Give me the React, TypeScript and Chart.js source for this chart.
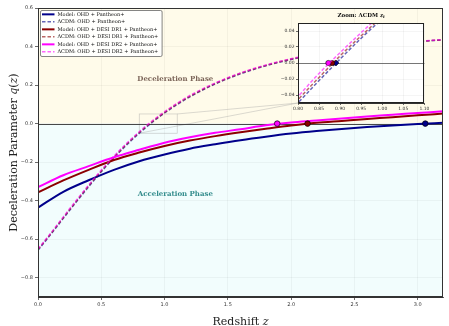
import React, { useEffect, useRef } from 'react';
import { Chart, registerables } from 'chart.js';

Chart.register(...registerables);

// ---------------- data ----------------
const Z_MODEL = [0, 0.2, 0.4, 0.6, 0.8, 1.0, 1.2, 1.4, 1.6, 1.8, 2.0, 2.2, 2.4, 2.6, 2.8, 3.0, 3.2];
const Q_MODEL_OHD = [-0.436, -0.354, -0.294, -0.240, -0.195, -0.160, -0.130, -0.107, -0.086, -0.068, -0.052, -0.039, -0.028, -0.018, -0.010, -0.002, 0.004];
const Q_MODEL_DR1 = [-0.357, -0.295, -0.240, -0.189, -0.150, -0.116, -0.088, -0.065, -0.045, -0.027, -0.010, 0.004, 0.014, 0.024, 0.033, 0.043, 0.052];
const Q_MODEL_DR2 = [-0.330, -0.268, -0.221, -0.175, -0.136, -0.099, -0.071, -0.048, -0.029, -0.009, 0.006, 0.016, 0.027, 0.037, 0.046, 0.055, 0.064];

const Z_LCDM = [0, 0.1, 0.2, 0.3, 0.4, 0.5, 0.6, 0.7, 0.8, 0.85, 0.9, 0.95, 1.0, 1.1, 1.2, 1.4, 1.6, 1.8, 2.0, 2.2, 2.4, 2.6, 2.8, 3.0, 3.2];
const Q_LCDM_OHD = [-0.657, -0.576, -0.492, -0.409, -0.328, -0.250, -0.178, -0.111, -0.050, -0.022, 0.005, 0.031, 0.055, 0.099, 0.139, 0.206, 0.258, 0.300, 0.333, 0.360, 0.381, 0.399, 0.413, 0.425, 0.435];
const Q_LCDM_DR1 = [-0.654, -0.572, -0.488, -0.405, -0.323, -0.246, -0.174, -0.107, -0.046, -0.018, 0.009, 0.034, 0.058, 0.103, 0.142, 0.208, 0.261, 0.302, 0.335, 0.361, 0.383, 0.400, 0.414, 0.426, 0.435];
const Q_LCDM_DR2 = [-0.651, -0.569, -0.484, -0.400, -0.319, -0.241, -0.169, -0.102, -0.042, -0.013, 0.013, 0.038, 0.062, 0.106, 0.146, 0.211, 0.263, 0.304, 0.337, 0.363, 0.384, 0.401, 0.415, 0.427, 0.436];

// transition redshifts (q = 0): OHD, DR1, DR2
const ZT_MODEL = [3.06, 2.13, 1.89];
const ZT_LCDM = [0.890, 0.881, 0.872];

const SERIES_LABELS = [
  'Model: OHD + Pantheon+',
  'ΛCDM: OHD + Pantheon+',
  'Model: OHD + DESI DR1 + Pantheon+',
  'ΛCDM: OHD + DESI DR1 + Pantheon+',
  'Model: OHD + DESI DR2 + Pantheon+',
  'ΛCDM: OHD + DESI DR2 + Pantheon+',
];

const X_TICKS = [0, 0.5, 1.0, 1.5, 2.0, 2.5, 3.0];
const Y_TICKS = [-0.8, -0.6, -0.4, -0.2, 0, 0.2, 0.4, 0.6];
const INSET_X_TICKS = [0.8, 0.85, 0.9, 0.95, 1.0, 1.05, 1.1];
const INSET_Y_TICKS = [-0.04, -0.02, 0, 0.02, 0.04];

// ---------------- styles ----------------
const COLORS = ['#00008b', '#8b0000', '#ff00ff'];
const DASH_COLORS = ['rgba(0,0,139,0.6)', 'rgba(139,0,0,0.6)', 'rgba(255,0,255,0.6)'];
const DASH = [3.5, 2];
const BG_DECEL = 'rgb(255,251,234)';
const BG_ACCEL = 'rgb(242,253,253)';
const GRID = 'rgba(0,0,0,0.07)';
const INSET = { left: 268, top: 8, width: 161, height: 112, yAxisW: 30, xAxisH: 17, padTop: 15 };
const ZOOM_BOX = { x0: 0.8, x1: 1.1, y0: -0.05, y1: 0.05 };

const fmt = (v: number, d: number) => (v < -1e-9 ? '\u2212' : '') + Math.abs(v).toFixed(d);
const pts = (xs: number[], ys: number[]) => xs.map((x, i) => ({ x, y: ys[i] }));

type Run = { t: string; italic?: boolean };
function drawRuns(ctx: CanvasRenderingContext2D, runs: Run[], size: number, cx: number, cy: number, rot: number, weight = 'normal') {
  ctx.save();
  ctx.translate(cx, cy);
  ctx.rotate(rot);
  ctx.textBaseline = 'alphabetic';
  ctx.textAlign = 'left';
  const fontOf = (r: Run) => `${r.italic ? 'italic ' : ''}${weight} ${size}px "DejaVu Serif"`;
  const widths = runs.map((r) => {
    ctx.font = fontOf(r);
    return ctx.measureText(r.t).width;
  });
  const total = widths.reduce((a, b) => a + b, 0);
  let x = -total / 2;
  runs.forEach((r, i) => {
    ctx.font = fontOf(r);
    ctx.fillText(r.t, x, 0);
    x += widths[i];
  });
  ctx.restore();
}

const mainPlugin = {
  id: 'mainDecor',
  beforeDraw(chart: any) {
    const { ctx, chartArea: a, scales } = chart;
    const y0 = scales.y.getPixelForValue(0);
    ctx.save();
    ctx.fillStyle = '#ffffff';
    ctx.fillRect(0, 0, chart.width, chart.height);
    ctx.fillStyle = BG_DECEL;
    ctx.fillRect(a.left, a.top, a.right - a.left, y0 - a.top);
    ctx.fillStyle = BG_ACCEL;
    ctx.fillRect(a.left, y0, a.right - a.left, a.bottom - y0);
    ctx.restore();
  },
  beforeDatasetsDraw(chart: any) {
    const { ctx, chartArea: a, scales } = chart;
    const { x, y } = scales;
    ctx.save();
    // phase labels
    ctx.textAlign = 'center';
    ctx.textBaseline = 'middle';
    ctx.font = 'bold 7px "DejaVu Serif"';
    ctx.fillStyle = '#7d665a';
    ctx.fillText('Deceleration Phase', x.getPixelForValue(1.085), y.getPixelForValue(0.233));
    ctx.fillStyle = '#348d8d';
    ctx.fillText('Acceleration Phase', x.getPixelForValue(1.085), y.getPixelForValue(-0.367));
    // zoom rectangle and connectors
    const rx0 = x.getPixelForValue(ZOOM_BOX.x0), rx1 = x.getPixelForValue(ZOOM_BOX.x1);
    const ry0 = y.getPixelForValue(ZOOM_BOX.y0), ry1 = y.getPixelForValue(ZOOM_BOX.y1);
    ctx.strokeStyle = 'rgba(160,160,160,0.55)';
    ctx.lineWidth = 0.7;
    ctx.strokeRect(rx0, ry1, rx1 - rx0, ry0 - ry1);
    const ix = INSET.left + INSET.yAxisW, iy = INSET.top + INSET.height - INSET.xAxisH;
    ctx.beginPath();
    ctx.moveTo(rx0, ry0);
    ctx.lineTo(ix, iy);
    ctx.moveTo(rx1, ry1);
    ctx.lineTo(ix, iy);
    ctx.stroke();
    // zero line
    ctx.strokeStyle = '#333';
    ctx.lineWidth = 0.9;
    const y0 = Math.round(y.getPixelForValue(0)) + 0.5;
    ctx.beginPath();
    ctx.moveTo(a.left, y0);
    ctx.lineTo(a.right, y0);
    ctx.stroke();
    ctx.restore();
  },
  afterDraw(chart: any) {
    const { ctx, chartArea: a } = chart;
    ctx.save();
    // frame
    ctx.strokeStyle = '#333';
    ctx.lineWidth = 1;
    ctx.strokeRect(Math.round(a.left) + 0.5, Math.round(a.top) + 0.5, Math.round(a.right - a.left) - 1, Math.round(a.bottom - a.top) - 1);
    // legend
    const ds = chart.data.datasets.filter((d: any) => SERIES_LABELS.includes(d.label));
    ctx.font = '5px "DejaVu Serif"';
    const maxW = Math.max(...ds.map((d: any) => ctx.measureText(d.label).width));
    const bx = a.left + 2.5, by = a.top + 2.5, rowH = 7.5;
    const bw = 17 + maxW + 4, bh = ds.length * rowH + 1;
    ctx.beginPath();
    if ((ctx as any).roundRect) (ctx as any).roundRect(bx, by, bw, bh, 1.5);
    else ctx.rect(bx, by, bw, bh);
    ctx.fillStyle = 'rgba(255,255,255,0.9)';
    ctx.fill();
    ctx.strokeStyle = '#666';
    ctx.lineWidth = 0.8;
    ctx.stroke();
    ds.forEach((d: any, i: number) => {
      const cy = by + rowH * (i + 0.5) + 0.1;
      ctx.beginPath();
      ctx.setLineDash(d.borderDash || []);
      ctx.strokeStyle = d.borderColor;
      ctx.lineWidth = d.borderWidth;
      ctx.moveTo(bx + 1.5, cy);
      ctx.lineTo(bx + 14, cy);
      ctx.stroke();
      ctx.setLineDash([]);
      ctx.fillStyle = '#111';
      ctx.textAlign = 'left';
      ctx.textBaseline = 'middle';
      ctx.font = '5px "DejaVu Serif"';
      ctx.fillText(d.label, bx + 17, cy);
    });
    // axis titles
    ctx.fillStyle = '#222';
    drawRuns(ctx, [{ t: 'Redshift ' }, { t: 'z', italic: true }], 11, (a.left + a.right) / 2, 325, 0);
    drawRuns(ctx, [{ t: 'Deceleration Parameter ' }, { t: 'q', italic: true }, { t: '(' }, { t: 'z', italic: true }, { t: ')' }], 11, 17, (a.top + a.bottom) / 2, -Math.PI / 2);
    ctx.restore();
  },
};

const insetPlugin = {
  id: 'insetDecor',
  beforeDraw(chart: any) {
    const { ctx, chartArea: a } = chart;
    ctx.save();
    ctx.fillStyle = '#ffffff';
    ctx.fillRect(a.left, a.top, a.right - a.left, a.bottom - a.top);
    ctx.restore();
  },
  beforeDatasetsDraw(chart: any) {
    const { ctx, chartArea: a, scales } = chart;
    ctx.save();
    ctx.strokeStyle = '#555';
    ctx.lineWidth = 0.8;
    const y0 = Math.round(scales.y.getPixelForValue(0)) + 0.5;
    ctx.beginPath();
    ctx.moveTo(a.left, y0);
    ctx.lineTo(a.right, y0);
    ctx.stroke();
    ctx.restore();
  },
  afterDraw(chart: any) {
    const { ctx, chartArea: a } = chart;
    ctx.save();
    ctx.strokeStyle = '#222';
    ctx.lineWidth = 1;
    ctx.strokeRect(Math.round(a.left) + 0.5, Math.round(a.top) + 0.5, Math.round(a.right - a.left) - 1, Math.round(a.bottom - a.top) - 1);
    ctx.fillStyle = '#111';
    // title "Zoom: ΛCDM z_t"
    ctx.textBaseline = 'alphabetic';
    ctx.textAlign = 'left';
    const f1 = 'bold 5.5px "DejaVu Serif"';
    const f2 = 'italic bold 5.5px "DejaVu Serif"';
    const f3 = 'italic bold 4px "DejaVu Serif"';
    const parts: [string, string, number][] = [['Zoom: ΛCDM ', f1, 0], ['z', f2, 0], ['t', f3, 1.2]];
    const widths = parts.map(([t, f]) => { ctx.font = f; return ctx.measureText(t).width; });
    const total = widths.reduce((s, w) => s + w, 0);
    let x = (a.left + a.right) / 2 - total / 2;
    const base = a.top - 6;
    parts.forEach(([t, f, dy], i) => { ctx.font = f; ctx.fillText(t, x, base + dy); x += widths[i]; });
    ctx.restore();
  },
};

function axisCommon(ticksArr: number[], digits: number, fontSize: number, tickLen: number, pad: number) {
  return {
    type: 'linear' as const,
    afterBuildTicks: (s: any) => { s.ticks = ticksArr.map((v) => ({ value: v })); },
    grid: { color: GRID, lineWidth: 0.6, tickLength: tickLen, tickColor: '#444', tickWidth: 0.8, drawTicks: true },
    border: { display: true, color: '#333', width: 1 },
    ticks: {
      autoSkip: false,
      maxRotation: 0,
      padding: pad,
      color: '#333',
      font: { family: 'DejaVu Sans', size: fontSize },
      callback: (v: any) => fmt(Number(v), digits),
    },
  };
}

function buildMain(canvas: HTMLCanvasElement) {
  const model = [Q_MODEL_OHD, Q_MODEL_DR1, Q_MODEL_DR2];
  const lcdm = [Q_LCDM_OHD, Q_LCDM_DR1, Q_LCDM_DR2];
  const datasets: any[] = [];
  for (let i = 0; i < 3; i++) {
    datasets.push({
      label: SERIES_LABELS[2 * i],
      data: pts(Z_MODEL, model[i]),
      borderColor: COLORS[i],
      borderWidth: 2,
      pointRadius: 0,
      cubicInterpolationMode: 'monotone',
      fill: false,
      order: 6 - 2 * i,
    });
    datasets.push({
      label: SERIES_LABELS[2 * i + 1],
      data: pts(Z_LCDM, lcdm[i]),
      borderColor: DASH_COLORS[i],
      borderWidth: 1.5,
      borderDash: DASH,
      pointRadius: 0,
      cubicInterpolationMode: 'monotone',
      fill: false,
      order: 5 - 2 * i,
    });
  }
  for (let i = 0; i < 3; i++) {
    datasets.push({
      label: '',
      data: [{ x: ZT_MODEL[i], y: 0 }],
      showLine: false,
      pointRadius: 2.8,
      pointBackgroundColor: COLORS[i],
      pointBorderColor: '#000',
      pointBorderWidth: 0.7,
      order: 0,
    });
  }
  return new Chart(canvas, {
    type: 'line',
    data: { datasets },
    options: {
      animation: false,
      responsive: true,
      maintainAspectRatio: false,
      devicePixelRatio: 1,
      events: [],
      layout: { padding: { top: 8, right: 6, left: 0, bottom: 0 } },
      plugins: { legend: { display: false }, tooltip: { enabled: false } },
      scales: {
        x: {
          ...axisCommon(X_TICKS, 1, 5, 3, 2),
          min: 0,
          max: 3.2,
          afterFit: (s: any) => { s.height = 29; s.paddingLeft = 0; s.paddingRight = 0; },
        },
        y: {
          ...axisCommon(Y_TICKS, 1, 5, 3, 2),
          min: -0.9,
          max: 0.6,
          afterFit: (s: any) => { s.width = 38; s.paddingTop = 0; s.paddingBottom = 0; },
        },
      },
    } as any,
    plugins: [mainPlugin],
  });
}

function buildInset(canvas: HTMLCanvasElement) {
  const lcdm = [Q_LCDM_OHD, Q_LCDM_DR1, Q_LCDM_DR2];
  const datasets: any[] = [];
  for (let i = 0; i < 3; i++) {
    datasets.push({
      label: SERIES_LABELS[2 * i + 1],
      data: pts(Z_LCDM, lcdm[i]),
      borderColor: DASH_COLORS[i],
      borderWidth: 1.5,
      borderDash: DASH,
      pointRadius: 0,
      cubicInterpolationMode: 'monotone',
      fill: false,
      clip: 0,
      order: 5 - 2 * i,
    });
  }
  for (let i = 0; i < 3; i++) {
    datasets.push({
      label: '',
      data: [{ x: ZT_LCDM[i], y: 0 }],
      showLine: false,
      pointStyle: i === 0 ? 'rectRot' : 'circle',
      pointRadius: i === 0 ? 3 : 2.6,
      pointBackgroundColor: COLORS[i],
      pointBorderColor: '#000',
      pointBorderWidth: 0.6,
      order: 3 - i,
    });
  }
  return new Chart(canvas, {
    type: 'line',
    data: { datasets },
    options: {
      animation: false,
      responsive: true,
      maintainAspectRatio: false,
      devicePixelRatio: 1,
      events: [],
      layout: { padding: { top: INSET.padTop, right: 1, left: 0, bottom: 0 } },
      plugins: { legend: { display: false }, tooltip: { enabled: false } },
      scales: {
        x: {
          ...axisCommon(INSET_X_TICKS, 2, 4.5, 2, 1.5),
          min: 0.8,
          max: 1.1,
          afterFit: (s: any) => { s.height = INSET.xAxisH; s.paddingLeft = 0; s.paddingRight = 0; },
        },
        y: {
          ...axisCommon(INSET_Y_TICKS, 2, 4.5, 2, 1.5),
          min: -0.05,
          max: 0.05,
          afterFit: (s: any) => { s.width = INSET.yAxisW; s.paddingTop = 0; s.paddingBottom = 0; },
        },
      },
    } as any,
    plugins: [insetPlugin],
  });
}

export default function App() {
  const mainRef = useRef<HTMLCanvasElement>(null);
  const insetRef = useRef<HTMLCanvasElement>(null);
  useEffect(() => {
    const main = buildMain(mainRef.current!);
    const inset = buildInset(insetRef.current!);
    return () => {
      main.destroy();
      inset.destroy();
    };
  }, []);
  return (
    <div style={{ position: 'fixed', left: 0, top: 0, width: 449, height: 326, background: '#fff' }}>
      <div style={{ position: 'absolute', left: 0, top: 0, width: 449, height: 326 }}>
        <canvas ref={mainRef} />
      </div>
      <div style={{ position: 'absolute', left: INSET.left, top: INSET.top, width: INSET.width, height: INSET.height }}>
        <canvas ref={insetRef} />
      </div>
    </div>
  );
}
